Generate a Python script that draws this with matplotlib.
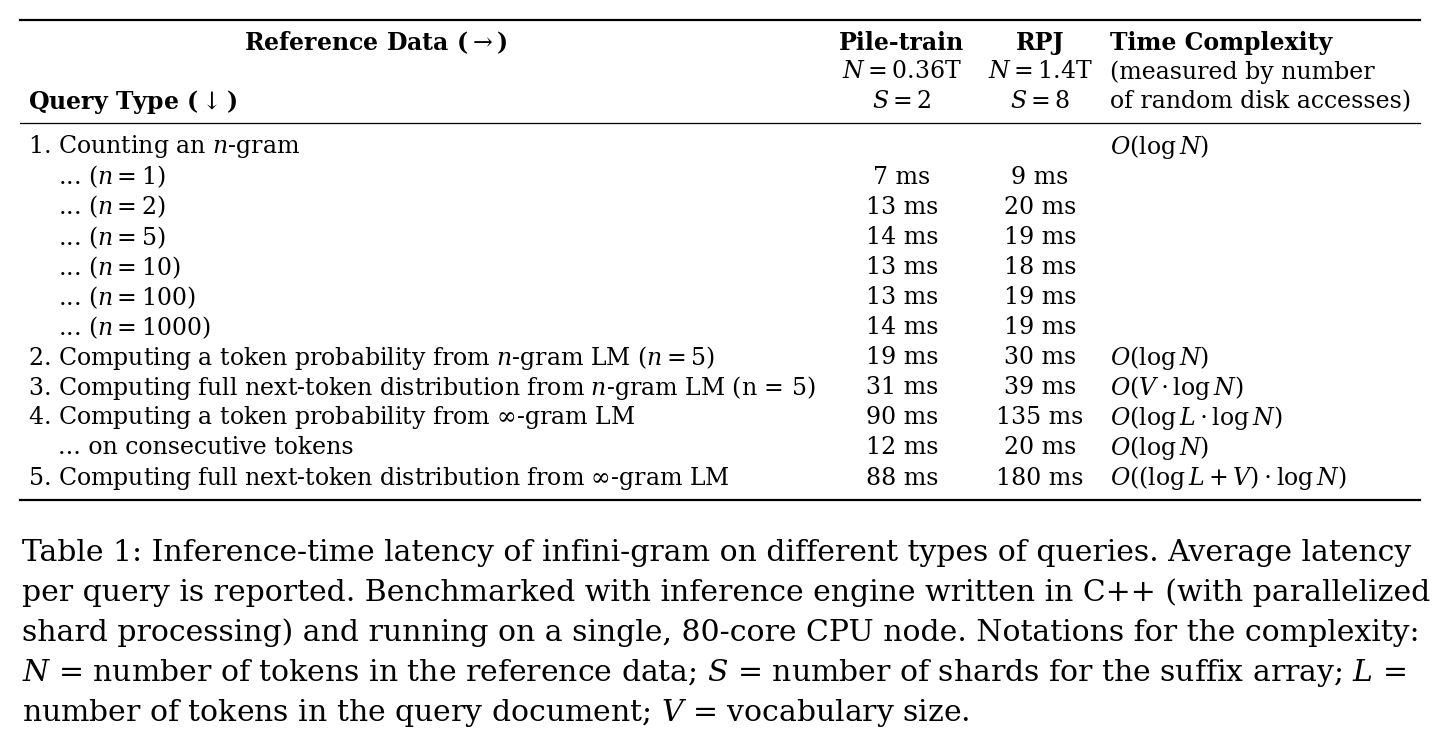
import matplotlib.pyplot as plt

plt.rcParams['font.family'] = ['DejaVu Serif']
plt.rcParams['mathtext.fontset'] = 'dejavuserif'

row_labels = [
    "1. Counting an $n$-gram",
    "    ... ($n = 1$)",
    "    ... ($n = 2$)",
    "    ... ($n = 5$)",
    "    ... ($n = 10$)",
    "    ... ($n = 100$)",
    "    ... ($n = 1000$)",
    "2. Computing a token probability from $n$-gram LM ($n = 5$)",
    "3. Computing full next-token distribution from $n$-gram LM (n = 5)",
    "4. Computing a token probability from $\\infty$-gram LM",
    "    ... on consecutive tokens",
    "5. Computing full next-token distribution from $\\infty$-gram LM",
]
pile_ms = ["", "7 ms", "13 ms", "14 ms", "13 ms", "13 ms", "14 ms", "19 ms", "31 ms", "90 ms", "12 ms", "88 ms"]
rpj_ms = ["", "9 ms", "20 ms", "19 ms", "18 ms", "19 ms", "19 ms", "30 ms", "39 ms", "135 ms", "20 ms", "180 ms"]
complexity = [
    "$O(\\log N)$", "", "", "", "", "", "",
    "$O(\\log N)$", "$O(V \\cdot \\log N)$", "$O(\\log L \\cdot \\log N)$",
    "$O(\\log N)$", "$O((\\log L + V) \\cdot \\log N)$",
]
caption = [
    "Table 1: Inference-time latency of infini-gram on different types of queries. Average latency",
    "per query is reported. Benchmarked with inference engine written in C++ (with parallelized",
    "shard processing) and running on a single, 80-core CPU node. Notations for the complexity:",
    "$N$ = number of tokens in the reference data; $S$ = number of shards for the suffix array; $L$ =",
    "number of tokens in the query document; $V$ = vocabulary size.",
]

W, H = 1442, 742
fig = plt.figure(figsize=(W / 100, H / 100), dpi=100)
ax = fig.add_axes([0, 0, 1, 1])
ax.set_xlim(0, W)
ax.set_ylim(H, 0)
ax.axis('off')

fs = 17
x_lab, x_pile, x_rpj, x_cx = 28, 902, 1040, 1110

# rules
ax.plot([20, 1420], [20, 20], color='black', lw=1.6)
ax.plot([20, 1420], [123, 123], color='black', lw=0.9)
ax.plot([20, 1420], [500, 500], color='black', lw=1.6)

# header
ax.text(376, 43, "Reference Data ($\\rightarrow$)", fontsize=fs, fontweight='bold', ha='center', va='center')
ax.text(x_lab, 102, "Query Type ($\\downarrow$)", fontsize=fs, fontweight='bold', ha='left', va='center')
ax.text(x_pile, 43, "Pile-train", fontsize=fs, fontweight='bold', ha='center', va='center')
ax.text(x_pile, 72, "$N = 0.36$T", fontsize=fs, ha='center', va='center')
ax.text(x_pile, 102, "$S = 2$", fontsize=fs, ha='center', va='center')
ax.text(x_rpj, 43, "RPJ", fontsize=fs, fontweight='bold', ha='center', va='center')
ax.text(x_rpj, 72, "$N = 1.4$T", fontsize=fs, ha='center', va='center')
ax.text(x_rpj, 102, "$S = 8$", fontsize=fs, ha='center', va='center')
ax.text(x_cx, 43, "Time Complexity", fontsize=fs, fontweight='bold', ha='left', va='center')
ax.text(x_cx, 72, "(measured by number", fontsize=fs, ha='left', va='center')
ax.text(x_cx, 102, "of random disk accesses)", fontsize=fs, ha='left', va='center')

# body
for i, (lab, p, r, c) in enumerate(zip(row_labels, pile_ms, rpj_ms, complexity)):
    y = 147 + i * 30.1
    ax.text(x_lab, y, lab, fontsize=fs, ha='left', va='center')
    ax.text(x_pile, y, p, fontsize=fs, ha='center', va='center')
    ax.text(x_rpj, y, r, fontsize=fs, ha='center', va='center')
    ax.text(x_cx, y, c, fontsize=fs, ha='left', va='center')

# caption
for i, line in enumerate(caption):
    ax.text(22, 553 + i * 40, line, fontsize=21.5, ha='left', va='center')

fig.savefig("out.png", dpi=100)
